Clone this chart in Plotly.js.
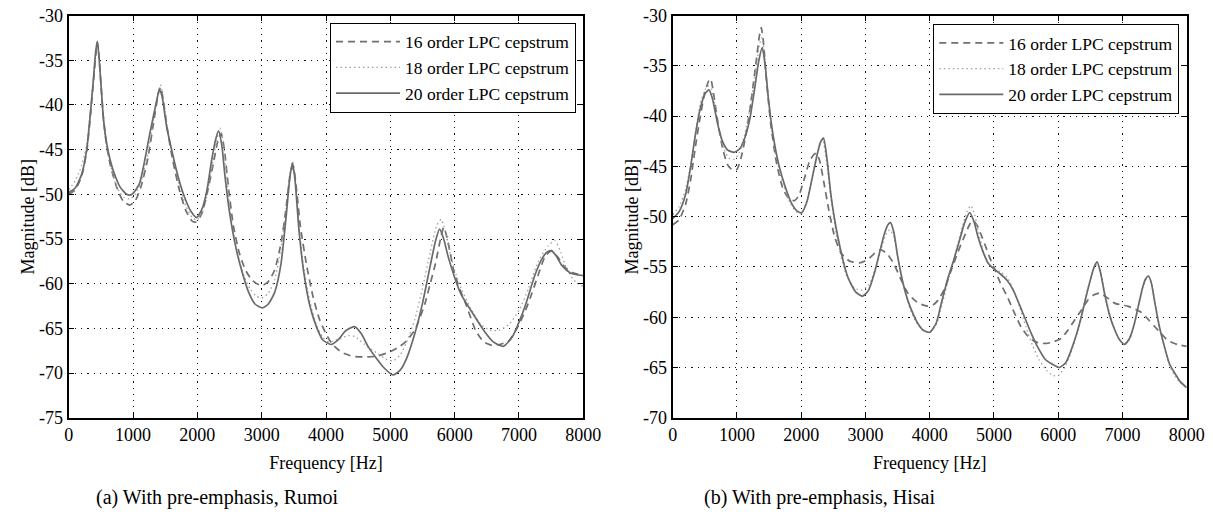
<!DOCTYPE html>
<html>
<head>
<meta charset="utf-8">
<script src="https://cdn.plot.ly/plotly-3.0.1.min.js"></script>
<style>html,body{margin:0;padding:0;background:#fff;}#chart{width:1213px;height:520px;}</style>
</head>
<body>
<div id="chart"></div>
<script>
// ---------- Data: (a) With pre-emphasis, Rumoi ----------
const rumoiFreq16 = [0,100,200,280,330,380,445,470,500,540,590,650,750,850,950,1030,1130,1230,1330,1400,1430,1470,1540,1620,1720,1820,1920,1980,2060,2150,2250,2320,2370,2420,2480,2560,2650,2750,2850,2950,3010,3100,3200,3300,3380,3440,3490,3550,3600,3700,3800,3900,4000,4100,4250,4400,4600,4800,5000,5150,5250,5380,5450,5540,5620,5700,5780,5830,5880,5930,5985,6080,6170,6325,6450,6580,6700,6840,6990,7100,7200,7300,7410,7510,7600,7720,7850,8000];
const rumoiMag16  = [-50.0,-49.5,-48.0,-45.2,-41.8,-37.8,-33.0,-34.5,-37.5,-41.5,-44.5,-46.8,-49.3,-50.8,-51.2,-50.8,-49.0,-46.0,-41.5,-38.5,-38.0,-39.5,-43.0,-46.3,-49.5,-51.8,-53.0,-53.1,-52.3,-50.0,-46.5,-44.0,-43.2,-45.0,-49.0,-53.5,-56.5,-58.5,-59.6,-60.1,-60.2,-59.8,-58.5,-55.5,-51.5,-48.0,-46.8,-50.0,-53.5,-58.0,-61.5,-64.0,-65.6,-66.8,-67.7,-68.1,-68.2,-68.1,-67.6,-67.0,-66.4,-65.2,-64.0,-62.2,-60.0,-57.8,-55.0,-53.7,-54.8,-56.5,-58.5,-60.6,-62.2,-65.2,-66.5,-66.9,-66.8,-66.4,-64.7,-63.0,-61.1,-59.0,-56.9,-56.3,-57.0,-58.2,-58.8,-59.1];

const rumoiFreq18 = [0,100,200,280,330,380,445,470,500,540,590,650,750,850,950,1030,1130,1230,1330,1400,1430,1470,1540,1620,1720,1820,1920,1990,2070,2150,2230,2300,2350,2400,2450,2520,2620,2720,2820,2920,3000,3100,3200,3300,3380,3440,3480,3520,3580,3650,3750,3850,3950,4050,4200,4350,4450,4600,4800,4950,5050,5150,5250,5380,5500,5620,5720,5790,5850,5920,6000,6100,6250,6400,6550,6700,6850,7000,7150,7300,7450,7560,7650,7750,7880,8000];
const rumoiMag18  = [-49.5,-48.5,-46.8,-44.5,-41.2,-37.5,-33.0,-34.8,-37.8,-42.0,-44.8,-46.8,-49.2,-50.3,-50.5,-50.1,-48.5,-45.5,-41.0,-38.3,-37.8,-39.3,-42.8,-46.0,-49.0,-51.3,-52.6,-52.9,-52.2,-50.0,-46.8,-44.0,-42.6,-44.0,-47.5,-52.5,-56.5,-59.0,-60.6,-61.4,-61.6,-61.1,-59.6,-56.0,-51.5,-47.5,-46.3,-48.3,-53.5,-58.0,-62.0,-64.6,-66.0,-66.5,-66.2,-65.8,-65.9,-66.8,-67.8,-68.5,-68.6,-68.0,-66.6,-64.0,-60.5,-56.5,-53.5,-52.8,-54.0,-56.3,-58.5,-60.5,-62.8,-64.5,-65.2,-65.2,-64.5,-63.0,-60.5,-57.5,-55.8,-55.2,-56.5,-58.5,-59.8,-60.3];

const rumoiFreq20 = [0,100,200,280,330,380,420,445,470,500,540,590,650,700,800,900,950,1000,1100,1160,1264,1369,1410,1450,1524,1600,1700,1800,1900,1990,2080,2150,2220,2280,2330,2380,2430,2500,2600,2700,2800,2900,3010,3100,3200,3300,3380,3440,3480,3520,3580,3650,3750,3850,3950,4080,4200,4300,4440,4550,4660,4800,4900,5040,5150,5250,5380,5500,5620,5700,5765,5830,5900,6000,6100,6270,6470,6600,6760,6900,7000,7100,7250,7350,7430,7500,7580,7670,7800,7900,8000];
const rumoiMag20  = [-49.8,-49.3,-47.8,-45.0,-41.5,-37.5,-34.0,-32.9,-34.5,-37.5,-41.5,-44.3,-46.3,-47.5,-49.2,-50.0,-50.1,-49.9,-48.8,-47.0,-43.1,-39.5,-38.3,-39.0,-42.5,-45.0,-48.0,-50.3,-51.9,-52.6,-51.5,-49.5,-46.3,-44.0,-42.9,-44.5,-48.0,-52.0,-56.0,-58.8,-61.0,-62.3,-62.7,-62.3,-61.0,-57.8,-52.5,-48.0,-46.5,-48.5,-54.0,-58.5,-62.5,-64.8,-66.3,-66.8,-66.2,-65.3,-64.8,-65.6,-67.1,-68.5,-69.4,-70.2,-69.7,-68.4,-65.6,-62.2,-58.0,-55.3,-53.9,-55.0,-57.0,-59.3,-61.2,-63.2,-65.4,-66.5,-67.0,-65.9,-64.3,-62.4,-59.0,-57.3,-56.5,-56.3,-56.9,-58.0,-58.8,-59.0,-59.1];

// ---------- Data: (b) With pre-emphasis, Hisai ----------
const hisaiFreq16 = [0,100,200,280,350,430,500,560,590,630,700,780,860,940,1000,1070,1150,1230,1300,1350,1378,1410,1460,1530,1620,1720,1820,1900,1970,2050,2130,2200,2240,2290,2350,2420,2520,2620,2750,2907,3050,3150,3243,3350,3450,3550,3650,3762,3860,3969,4050,4130,4230,4337,4440,4544,4620,4674,4740,4800,4855,4930,5010,5100,5218,5320,5425,5530,5632,5720,5813,5900,6047,6150,6254,6360,6461,6550,6642,6750,6876,7000,7083,7200,7290,7400,7497,7600,7705,7850,8000];
const hisaiMag16  = [-50.8,-50.3,-48.8,-46.3,-43.2,-40.0,-37.7,-36.5,-36.3,-37.5,-40.5,-43.3,-44.9,-45.4,-45.3,-44.0,-41.5,-38.0,-34.5,-32.0,-31.2,-32.5,-36.5,-41.0,-44.8,-47.3,-48.3,-48.4,-47.8,-46.2,-44.5,-43.8,-43.7,-44.5,-46.5,-49.0,-52.0,-53.6,-54.4,-54.6,-54.2,-53.6,-53.3,-53.8,-54.8,-56.2,-57.5,-58.3,-58.7,-58.9,-58.8,-58.3,-57.2,-55.3,-53.5,-51.9,-50.8,-50.4,-50.9,-51.8,-52.7,-54.0,-55.2,-56.6,-58.1,-59.6,-61.0,-61.9,-62.4,-62.6,-62.6,-62.5,-62.1,-61.3,-60.3,-59.3,-58.3,-57.8,-57.6,-58.0,-58.6,-58.8,-58.9,-59.2,-59.5,-60.2,-60.9,-61.6,-62.3,-62.7,-62.9];

const hisaiFreq18 = [0,100,200,280,350,430,500,560,600,650,720,800,880,960,1040,1120,1200,1280,1350,1385,1420,1470,1540,1630,1730,1840,1940,2000,2080,2160,2240,2300,2340,2390,2460,2560,2700,2830,2940,3050,3140,3240,3330,3380,3440,3510,3600,3700,3800,3900,3990,4100,4190,4290,4400,4500,4580,4640,4700,4760,4840,4920,5000,5100,5200,5300,5400,5500,5600,5700,5820,5920,6000,6100,6200,6300,6400,6500,6560,6610,6660,6720,6800,6880,6960,7040,7120,7190,7260,7320,7370,7415,7460,7510,7580,7660,7740,7820,7910,8000];
const hisaiMag18  = [-49.8,-49.0,-47.3,-44.8,-41.8,-38.8,-37.4,-37.0,-37.3,-38.6,-41.3,-43.3,-44.2,-44.3,-43.6,-41.8,-39.3,-36.0,-33.0,-32.2,-33.3,-37.0,-41.2,-44.6,-47.0,-48.8,-49.6,-49.7,-48.6,-46.3,-44.0,-42.8,-42.6,-44.3,-48.0,-52.2,-55.8,-57.1,-57.3,-56.8,-55.4,-53.3,-51.6,-51.3,-52.0,-54.3,-57.0,-59.3,-60.6,-61.3,-61.5,-60.8,-58.8,-56.3,-53.6,-51.2,-49.5,-48.9,-49.8,-51.6,-53.5,-54.7,-55.2,-55.5,-56.0,-57.2,-59.0,-61.0,-62.8,-64.2,-65.3,-65.8,-65.8,-65.0,-63.5,-61.5,-58.7,-56.2,-55.1,-54.7,-55.5,-57.4,-59.6,-61.2,-62.3,-62.7,-62.1,-60.6,-58.6,-57.0,-56.2,-56.0,-56.8,-58.6,-61.0,-63.2,-64.9,-65.9,-66.6,-67.0];

const hisaiFreq20 = [0,100,200,280,350,420,500,565,620,700,780,860,960,1050,1120,1200,1270,1340,1394,1440,1490,1560,1650,1750,1860,1950,2010,2090,2170,2250,2300,2347,2400,2466,2570,2725,2850,2958,3050,3140,3230,3295,3350,3389,3440,3503,3580,3658,3750,3813,3900,4000,4100,4181,4280,4389,4480,4544,4622,4690,4751,4830,4907,5000,5100,5200,5300,5400,5477,5580,5684,5800,5891,6020,6120,6200,6280,6358,6440,6513,6560,6606,6660,6720,6800,6876,6950,7031,7110,7187,7250,7316,7360,7404,7450,7497,7570,7653,7730,7808,7900,8000];
const hisaiMag20  = [-50.2,-49.5,-47.8,-45.0,-42.0,-39.5,-37.8,-37.4,-38.3,-40.8,-42.6,-43.4,-43.6,-43.2,-42.2,-40.3,-37.5,-34.5,-33.2,-35.0,-38.3,-41.8,-44.8,-47.0,-48.8,-49.5,-49.6,-48.5,-46.2,-43.8,-42.6,-42.2,-44.2,-48.0,-52.0,-56.0,-57.5,-57.9,-57.3,-55.6,-53.3,-51.7,-50.8,-50.6,-51.5,-54.0,-56.5,-58.3,-59.8,-60.6,-61.3,-61.5,-60.6,-58.6,-56.2,-54.0,-52.0,-50.6,-49.6,-50.5,-52.0,-53.5,-54.6,-55.2,-55.7,-56.3,-57.3,-58.8,-60.0,-61.6,-63.0,-64.2,-64.6,-65.0,-64.5,-63.3,-61.8,-60.0,-57.8,-56.0,-55.0,-54.5,-55.6,-57.6,-59.8,-61.2,-62.2,-62.7,-62.1,-60.6,-58.8,-57.0,-56.2,-55.9,-56.6,-58.3,-60.8,-62.9,-64.6,-65.5,-66.4,-67.0];

const seriesNames = ['16 order LPC cepstrum','18 order LPC cepstrum','20 order LPC cepstrum'];
const xTickVals = [0,1000,2000,3000,4000,5000,6000,7000,8000];
const yTicksA = [-75,-70,-65,-60,-55,-50,-45,-40,-35,-30];
const yTicksB = [-70,-65,-60,-55,-50,-45,-40,-35,-30];
const captions = ['(a) With pre-emphasis, Rumoi','(b) With pre-emphasis, Hisai'];
const xTitle = 'Frequency [Hz]';
const yTitle = 'Magnitude [dB]';

// ---------- Styles ----------
const SERIF = '"Liberation Serif", "Times New Roman", serif';
const styles = [
  {color:'#6f6f6f', width:1.7, dash:'7px,5px'},
  {color:'#a0a0a0', width:1.3, dash:'1.5px,3px'},
  {color:'#6a6a6a', width:1.7, dash:'solid'}
];

function mk(x, y, i, xa, ya, leg){
  return {x:x, y:y, type:'scatter', mode:'lines', name:seriesNames[i],
    line:Object.assign({shape:'spline', smoothing:0.6}, styles[i]),
    xaxis:xa, yaxis:ya, legend:leg, hoverinfo:'x+y'};
}

const traces = [
  mk(rumoiFreq16, rumoiMag16, 0, 'x', 'y', 'legend'),
  mk(rumoiFreq18, rumoiMag18, 1, 'x', 'y', 'legend'),
  mk(rumoiFreq20, rumoiMag20, 2, 'x', 'y', 'legend'),
  mk(hisaiFreq16, hisaiMag16, 0, 'x2', 'y2', 'legend2'),
  mk(hisaiFreq18, hisaiMag18, 1, 'x2', 'y2', 'legend2'),
  mk(hisaiFreq20, hisaiMag20, 2, 'x2', 'y2', 'legend2')
];

const W = 1213, H = 520;
const yTop = 15.5, yBot = 417.8;
function axX(l, r, anchor){
  return {domain:[l/W, r/W], range:[0,8000], anchor:anchor, tickvals:xTickVals,
    ticktext:xTickVals.map(String), showline:true, linecolor:'#000', linewidth:2,
    mirror:'ticks', ticks:'inside', ticklen:5, tickwidth:1, tickcolor:'#000',
    showgrid:true, gridcolor:'#111', gridwidth:1, griddash:'1.2px,5px', zeroline:false,
    tickfont:{family:SERIF, size:18, color:'#000'},
    title:{text:xTitle, font:{family:SERIF, size:18, color:'#000'}, standoff:12},
    automargin:false};
}
function axY(ticks, lo, anchor){
  return {domain:[1-yBot/H, 1-yTop/H], range:[lo,-30], anchor:anchor, tickvals:ticks,
    ticktext:ticks.map(String), showline:true, linecolor:'#000', linewidth:2,
    mirror:'ticks', ticks:'inside', ticklen:5, tickwidth:1, tickcolor:'#000',
    showgrid:true, gridcolor:'#111', gridwidth:1, griddash:'1.2px,5px', zeroline:false,
    tickfont:{family:SERIF, size:18, color:'#000'},
    title:{text:yTitle, font:{family:SERIF, size:18, color:'#000'}, standoff:0},
    automargin:false};
}

const legendCommon = {bgcolor:'#fff', bordercolor:'#000', borderwidth:1,
  font:{family:SERIF, size:17.5, color:'#000'}, xanchor:'right', yanchor:'top',
  itemwidth:64, tracegroupgap:0, traceorder:'normal'};

const layout = {
  width:W, height:H, margin:{l:0, r:0, t:0, b:0}, paper_bgcolor:'#fff', plot_bgcolor:'#fff',
  showlegend:true,
  xaxis:axX(68.7, 583.3, 'y'),
  yaxis:axY(yTicksA, -75, 'x'),
  xaxis2:axX(672.7, 1186.7, 'y2'),
  yaxis2:axY(yTicksB, -70, 'x2'),
  legend:Object.assign({x:576/W, y:1-22.7/H}, legendCommon),
  legend2:Object.assign({x:1179.3/W, y:1-24/H}, legendCommon),
  annotations:[
    {text:captions[0], xref:'paper', yref:'paper', x:217.5/W, y:1-497/H, xanchor:'center', yanchor:'middle', showarrow:false, font:{family:SERIF, size:20, color:'#000'}},
    {text:captions[1], xref:'paper', yref:'paper', x:819.5/W, y:1-497/H, xanchor:'center', yanchor:'middle', showarrow:false, font:{family:SERIF, size:20, color:'#000'}}
  ]
};

Plotly.newPlot('chart', traces, layout, {displayModeBar:false, staticPlot:true});
</script>
</body>
</html>
